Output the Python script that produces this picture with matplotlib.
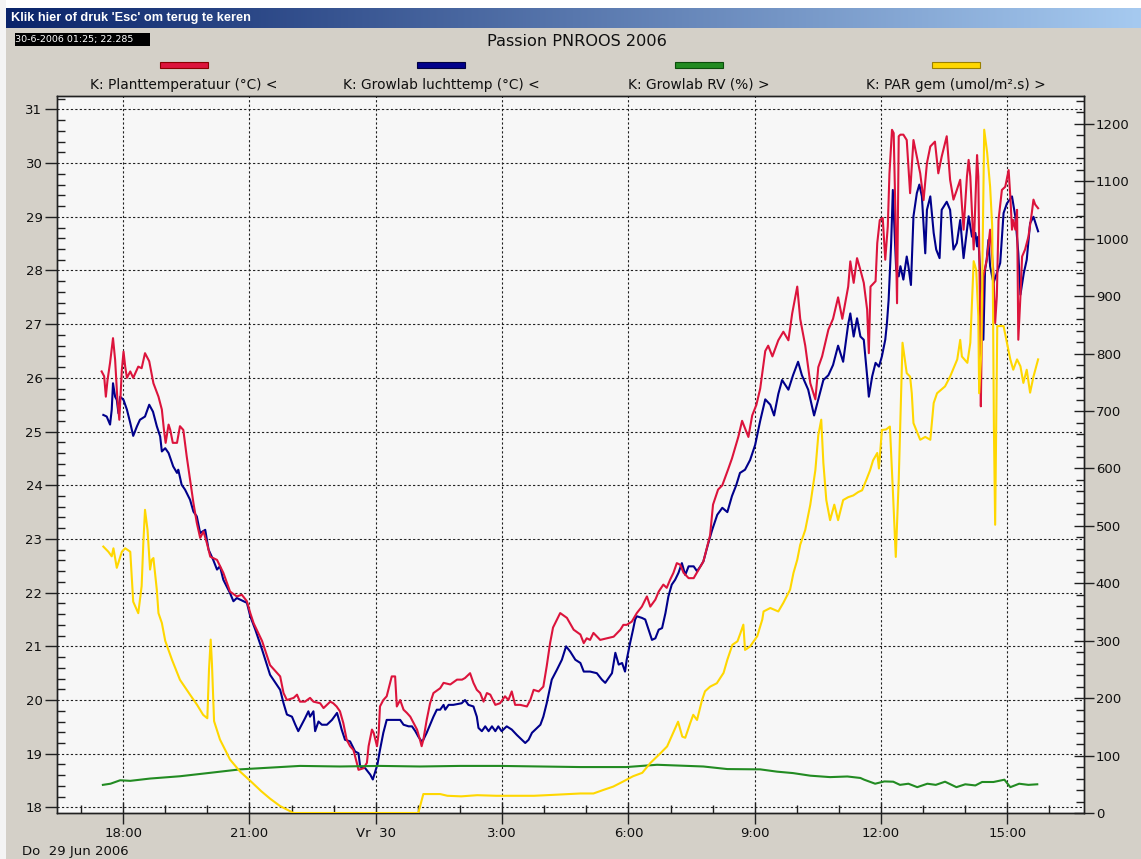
import numpy as np
import matplotlib
matplotlib.use('Agg')
import matplotlib.pyplot as plt
from matplotlib.ticker import MultipleLocator
from matplotlib.patches import Rectangle

# ---------------- data (hours since Thu 29 Jun 2006 00:00) ----------------
t_plant = [17.49, 17.55, 17.59, 17.63, 17.69, 17.76, 17.81, 17.86, 17.91, 17.97, 18.01, 18.05, 18.09, 18.17,
           18.24, 18.36, 18.44, 18.52, 18.62, 18.72, 18.84, 18.92, 18.97, 19.01, 19.08, 19.12, 19.18, 19.28,
           19.35, 19.43, 19.51, 19.59, 19.67, 19.75, 19.83, 19.91, 19.99, 20.07, 20.23, 20.38, 20.54, 20.70,
           20.82, 20.94, 21.02, 21.10, 21.30, 21.49, 21.73, 21.81, 21.89, 22.05, 22.13, 22.20, 22.32, 22.44,
           22.52, 22.68, 22.76, 22.92, 22.99, 23.07, 23.15, 23.23, 23.31, 23.39, 23.47, 23.55, 23.59, 23.71,
           23.79, 23.83, 23.91, 23.95, 24.03, 24.07, 24.10, 24.18, 24.26, 24.34, 24.38, 24.46, 24.50, 24.58,
           24.66, 24.74, 24.82, 24.90, 24.98, 25.05, 25.09, 25.13, 25.21, 25.29, 25.37, 25.53, 25.61, 25.77,
           25.93, 26.05, 26.12, 26.24, 26.32, 26.40, 26.48, 26.56, 26.64, 26.72, 26.84, 26.95, 27.07, 27.15,
           27.23, 27.31, 27.43, 27.59, 27.67, 27.75, 27.87, 27.98, 28.06, 28.14, 28.21, 28.38, 28.54, 28.70,
           28.86, 28.94, 29.01, 29.09, 29.17, 29.33, 29.49, 29.65, 29.81, 29.88, 29.96, 30.08, 30.20, 30.32,
           30.44, 30.52, 30.64, 30.72, 30.83, 30.91, 30.99, 31.07, 31.15, 31.23, 31.31, 31.43, 31.55, 31.67,
           31.78, 31.82, 31.94, 32.01, 32.13, 32.23, 32.37, 32.46, 32.61, 32.70, 32.85, 32.94, 33.04, 33.13,
           33.25, 33.32, 33.42, 33.56, 33.68, 33.80, 33.89, 34.01, 34.08, 34.20, 34.32, 34.44, 34.51, 34.60,
           34.75, 34.86, 34.98, 35.08, 35.22, 35.27, 35.35, 35.43, 35.51, 35.59, 35.67, 35.71, 35.75, 35.87,
           35.91, 35.97, 36.04, 36.10, 36.16, 36.20, 36.26, 36.30, 36.34, 36.38, 36.42, 36.46, 36.53, 36.61,
           36.69, 36.77, 36.85, 36.93, 37.01, 37.09, 37.17, 37.28, 37.36, 37.44, 37.56, 37.64, 37.72, 37.80,
           37.88, 37.96, 38.04, 38.08, 38.12, 38.20, 38.28, 38.31, 38.35, 38.37, 38.39, 38.43, 38.51, 38.59,
           38.67, 38.71, 38.75, 38.79, 38.87, 38.95, 39.03, 39.07, 39.11, 39.14, 39.19, 39.23, 39.26, 39.31,
           39.35, 39.42, 39.50, 39.58, 39.62, 39.66, 39.73]
plant_temp = [26.12, 26.03, 25.65, 25.96, 26.28, 26.74, 26.34, 25.65, 25.22, 26.15, 26.49, 26.21, 26.00, 26.12,
              26.00, 26.21, 26.18, 26.46, 26.31, 25.90, 25.65, 25.41, 25.03, 24.79, 25.13, 25.03, 24.79, 24.79,
              25.10, 25.03, 24.54, 24.10, 23.67, 23.30, 23.02, 23.14, 22.92, 22.67, 22.61, 22.37, 22.02, 21.93,
              21.96, 21.84, 21.62, 21.43, 21.10, 20.65, 20.44, 20.13, 20.00, 20.04, 20.10, 19.97, 19.97, 20.04,
              19.97, 19.94, 19.85, 19.97, 19.94, 19.88, 19.79, 19.57, 19.26, 19.14, 19.07, 18.83, 18.70, 18.73,
              18.83, 19.14, 19.45, 19.39, 19.14, 19.39, 19.88, 20.00, 20.07, 20.32, 20.44, 20.44, 19.88, 20.00,
              19.82, 19.76, 19.69, 19.57, 19.45, 19.26, 19.14, 19.26, 19.63, 19.94, 20.13, 20.22, 20.32, 20.29,
              20.38, 20.38, 20.41, 20.50, 20.32, 20.19, 20.13, 19.97, 20.13, 20.10, 19.91, 19.94, 20.07, 20.00,
              20.16, 19.91, 19.91, 19.88, 20.00, 20.19, 20.16, 20.25, 20.63, 21.06, 21.35, 21.62, 21.53, 21.31,
              21.22, 21.06, 21.15, 21.12, 21.25, 21.12, 21.15, 21.18, 21.31, 21.40, 21.40, 21.46, 21.62, 21.74,
              21.93, 21.74, 21.87, 22.02, 22.15, 22.09, 22.24, 22.37, 22.55, 22.52, 22.37, 22.27, 22.27, 22.43,
              22.58, 22.70, 23.07, 23.64, 23.92, 24.00, 24.30, 24.50, 24.90, 25.20, 24.90, 25.30, 25.50, 25.80,
              26.50, 26.60, 26.40, 26.70, 26.86, 26.70, 27.20, 27.70, 27.10, 26.60, 25.90, 25.60, 26.20, 26.40,
              26.90, 27.10, 27.50, 27.10, 27.70, 28.17, 27.77, 28.23, 28.01, 27.77, 27.27, 26.46, 27.70, 27.80,
              28.51, 28.94, 28.98, 28.20, 28.82, 29.81, 30.62, 30.56, 29.13, 27.39, 30.50, 30.53, 30.53, 30.43,
              29.44, 30.43, 30.12, 29.81, 29.31, 30.00, 30.31, 30.40, 29.81, 30.12, 30.50, 29.69, 29.32, 29.50,
              29.69, 28.76, 29.75, 30.06, 29.75, 28.39, 30.15, 29.75, 27.27, 25.47, 26.65, 27.89, 28.20, 28.76,
              27.95, 27.02, 27.52, 28.94, 29.50, 29.56, 29.87, 29.38, 28.76, 28.94, 28.76, 29.13, 26.71, 27.52,
              28.26, 28.39, 28.63, 29.07, 29.32, 29.23, 29.16]

t_air = [17.53, 17.61, 17.69, 17.73, 17.76, 17.81, 17.85, 17.89, 17.93, 18.01, 18.09, 18.17, 18.24, 18.33,
         18.40, 18.52, 18.62, 18.71, 18.80, 18.88, 18.92, 19.00, 19.08, 19.19, 19.28, 19.31, 19.39, 19.47,
         19.59, 19.67, 19.75, 19.83, 19.95, 20.03, 20.14, 20.23, 20.30, 20.38, 20.54, 20.62, 20.70, 20.86,
         20.94, 21.02, 21.14, 21.30, 21.49, 21.73, 21.81, 21.89, 22.01, 22.09, 22.16, 22.24, 22.32, 22.40,
         22.44, 22.52, 22.56, 22.64, 22.72, 22.84, 22.96, 23.08, 23.15, 23.19, 23.27, 23.39, 23.51, 23.59,
         23.63, 23.75, 23.87, 23.93, 23.99, 24.04, 24.10, 24.18, 24.26, 24.42, 24.58, 24.66, 24.78, 24.86,
         24.94, 25.01, 25.09, 25.13, 25.21, 25.29, 25.37, 25.45, 25.53, 25.61, 25.65, 25.73, 25.84, 26.04,
         26.12, 26.20, 26.32, 26.40, 26.44, 26.52, 26.60, 26.68, 26.76, 26.84, 26.91, 26.99, 27.11, 27.23,
         27.35, 27.47, 27.55, 27.63, 27.71, 27.79, 27.91, 27.98, 28.06, 28.18, 28.30, 28.42, 28.52, 28.62,
         28.74, 28.86, 28.94, 29.09, 29.25, 29.37, 29.45, 29.53, 29.61, 29.69, 29.77, 29.85, 29.92, 29.96,
         30.04, 30.11, 30.16, 30.20, 30.32, 30.40, 30.48, 30.56, 30.64, 30.72, 30.80, 30.88, 30.95, 31.03,
         31.11, 31.19, 31.27, 31.35, 31.43, 31.55, 31.63, 31.71, 31.78, 31.89, 31.99, 32.11, 32.23, 32.35,
         32.46, 32.56, 32.65, 32.77, 32.89, 33.01, 33.13, 33.25, 33.37, 33.46, 33.56, 33.65, 33.80, 33.91,
         34.03, 34.12, 34.27, 34.41, 34.51, 34.63, 34.75, 34.86, 34.98, 35.10, 35.22, 35.27, 35.35, 35.43,
         35.51, 35.59, 35.67, 35.71, 35.79, 35.87, 35.95, 36.02, 36.10, 36.14, 36.18, 36.24, 36.28, 36.32,
         36.36, 36.42, 36.46, 36.53, 36.61, 36.65, 36.71, 36.77, 36.85, 36.91, 36.97, 37.05, 37.09, 37.17,
         37.25, 37.31, 37.39, 37.44, 37.56, 37.64, 37.72, 37.80, 37.88, 37.96, 38.08, 38.16, 38.24, 38.28,
         38.31, 38.39, 38.43, 38.47, 38.51, 38.55, 38.59, 38.67, 38.75, 38.83, 38.91, 38.99, 39.11, 39.19,
         39.26, 39.31, 39.39, 39.46, 39.54, 39.62, 39.73]
air_temp = [25.31, 25.28, 25.13, 25.41, 25.90, 25.65, 25.59, 25.34, 25.65, 25.59, 25.41, 25.16, 24.92, 25.10,
            25.22, 25.28, 25.50, 25.37, 25.10, 24.91, 24.63, 24.69, 24.60, 24.35, 24.23, 24.29, 24.01, 23.92,
            23.73, 23.51, 23.42, 23.11, 23.17, 22.80, 22.61, 22.43, 22.49, 22.24, 21.99, 21.84, 21.90, 21.84,
            21.81, 21.56, 21.31, 20.94, 20.47, 20.19, 19.94, 19.73, 19.69, 19.54, 19.42, 19.54, 19.66, 19.79,
            19.69, 19.79, 19.42, 19.60, 19.54, 19.54, 19.63, 19.76, 19.57, 19.45, 19.26, 19.23, 19.04, 19.01,
            18.76, 18.73, 18.61, 18.52, 18.67, 18.80, 19.07, 19.39, 19.63, 19.63, 19.63, 19.54, 19.51, 19.51,
            19.42, 19.32, 19.23, 19.26, 19.39, 19.54, 19.69, 19.82, 19.82, 19.91, 19.82, 19.91, 19.91, 19.94,
            20.00, 19.91, 19.88, 19.69, 19.48, 19.42, 19.51, 19.42, 19.51, 19.42, 19.51, 19.42, 19.51, 19.45,
            19.35, 19.26, 19.20, 19.26, 19.39, 19.45, 19.54, 19.69, 19.94, 20.38, 20.56, 20.75, 21.00, 20.90,
            20.75, 20.69, 20.53, 20.53, 20.50, 20.38, 20.32, 20.41, 20.50, 20.88, 20.66, 20.69, 20.53, 20.75,
            21.06, 21.31, 21.50, 21.56, 21.53, 21.50, 21.31, 21.12, 21.15, 21.31, 21.34, 21.62, 21.93, 22.15,
            22.24, 22.37, 22.55, 22.33, 22.49, 22.49, 22.40, 22.49, 22.58, 22.90, 23.17, 23.45, 23.58, 23.50,
            23.80, 24.00, 24.23, 24.29, 24.47, 24.75, 25.20, 25.60, 25.50, 25.30, 25.70, 25.96, 25.78, 26.05,
            26.30, 26.05, 25.78, 25.30, 25.60, 25.96, 26.05, 26.24, 26.60, 26.30, 27.00, 27.20, 26.77, 27.11,
            26.77, 26.71, 26.03, 25.65, 26.03, 26.28, 26.21, 26.40, 26.71, 27.02, 27.45, 28.51, 29.50, 28.76,
            28.01, 27.89, 28.08, 27.83, 28.26, 28.08, 27.73, 29.01, 29.44, 29.60, 29.38, 28.32, 29.13, 29.38,
            28.70, 28.39, 28.23, 29.13, 29.28, 29.13, 28.39, 28.51, 28.94, 28.23, 29.01, 28.63, 28.70, 28.45,
            28.63, 27.39, 26.71, 28.01, 28.20, 28.57, 28.08, 27.77, 27.95, 28.14, 29.07, 29.25, 29.38, 29.00,
            28.32, 27.55, 27.95, 28.20, 28.88, 29.00, 28.73]

t_rv = [17.52, 17.70, 17.93, 18.17, 18.64, 19.35, 20.07, 20.78, 21.49, 22.20, 23.15, 24.10, 25.05, 26.00,
        26.95, 27.91, 28.86, 29.95, 30.68, 31.78, 32.35, 33.13, 33.53, 33.91, 34.32, 34.79, 35.20, 35.51,
        35.60, 35.86, 36.08, 36.29, 36.45, 36.65, 36.86, 37.10, 37.30, 37.52, 37.79, 38.00, 38.24, 38.40,
        38.67, 38.93, 39.07, 39.28, 39.50, 39.71]
rv = [49, 51, 57, 56, 60, 64, 70, 76, 79, 82, 81, 82, 81, 82,
      82, 81, 80, 80, 84, 81, 76.5, 76, 72, 69.5, 65, 62.5, 63.6, 61,
      58, 51, 55, 54.5, 49, 51, 45, 51, 49, 54.5, 45, 50, 48, 54,
      54, 58, 45, 51, 49, 50]

t_par = [17.53, 17.65, 17.73, 17.77, 17.85, 17.97, 18.05, 18.17, 18.24, 18.36, 18.44, 18.48, 18.52, 18.58,
         18.64, 18.68, 18.72, 18.80, 18.84, 18.92, 19.00, 19.16, 19.35, 19.59, 19.76, 19.90, 20.00, 20.04,
         20.08, 20.11, 20.16, 20.30, 20.54, 20.78, 21.02, 21.28, 21.49, 21.73, 21.97, 22.04, 25.01, 25.13,
         25.53, 25.70, 26.03, 26.41, 26.86, 27.76, 28.05, 28.86, 29.17, 29.40, 29.64, 29.88, 30.11, 30.33,
         30.52, 30.76, 30.92, 31.06, 31.18, 31.28, 31.35, 31.47, 31.54, 31.63, 31.75, 31.82, 31.94, 32.10,
         32.26, 32.35, 32.47, 32.59, 32.66, 32.73, 32.77, 32.89, 33.06, 33.18, 33.21, 33.37, 33.56, 33.68,
         33.84, 33.92, 34.01, 34.08, 34.20, 34.32, 34.44, 34.51, 34.58, 34.63, 34.70, 34.79, 34.89, 34.98,
         35.10, 35.22, 35.34, 35.46, 35.55, 35.65, 35.74, 35.81, 35.91, 35.95, 36.02, 36.12, 36.21, 36.28,
         36.35, 36.42, 36.51, 36.61, 36.69, 36.73, 36.77, 36.93, 37.05, 37.17, 37.25, 37.33, 37.52, 37.64,
         37.81, 37.88, 37.92, 38.05, 38.12, 38.20, 38.26, 38.31, 38.33, 38.38, 38.45, 38.52, 38.59, 38.64,
         38.66, 38.68, 38.71, 38.76, 38.91, 38.99, 39.07, 39.14, 39.23, 39.31, 39.38, 39.46, 39.54, 39.62,
         39.73]
par = [464, 455, 447, 461, 427, 455, 461, 455, 368, 348, 395, 470, 528, 493,
       424, 441, 444, 389, 348, 331, 300, 267, 232, 206, 188, 171, 165, 250,
       302, 260, 160, 128, 93, 72, 56, 38, 25, 12, 3, 0, 0, 33,
       33, 30, 29, 31, 30, 30, 31, 34, 34, 40, 46, 55, 64, 70,
       87, 104, 116, 139, 159, 133, 131, 157, 171, 162, 197, 212, 220, 226,
       244, 267, 293, 299, 313, 328, 284, 290, 308, 337, 351, 357, 351, 366,
       389, 418, 441, 467, 493, 537, 597, 658, 685, 610, 545, 510, 537, 510,
       545, 550, 553, 559, 562, 580, 597, 614, 627, 600, 667, 668, 673, 563,
       446, 580, 819, 766, 760, 731, 679, 650, 655, 650, 714, 731, 743, 760,
       790, 824, 795, 784, 819, 961, 946, 865, 731, 800, 1190, 1150, 1091, 1022,
       877, 673, 502, 848, 848, 819, 790, 772, 790, 778, 749, 772, 732, 760,
       790]

xtick_pos = [18, 21, 24, 27, 30, 33, 36, 39]
xtick_labels = ['18:00', '21:00', 'Vr  30', '3:00', '6:00', '9:00', '12:00', '15:00']
left_ticks = list(range(18, 32))
right_ticks = list(range(0, 1300, 100))

legend_labels = ['K: Planttemperatuur (\u00b0C) <', 'K: Growlab luchttemp (\u00b0C) <',
                 'K: Growlab RV (%) >', 'K: PAR gem (umol/m\u00b2.s) >']
colors = ['#dc143c', '#00008b', '#228b22', '#ffd700']
edge_colors = ['#8b0000', '#000040', '#0b4d0b', '#9a8000']

# ---------------- figure ----------------
W, H = 1141, 859
fig = plt.figure(figsize=(W / 100, H / 100), dpi=100)
fig.patch.set_facecolor('#d4d0c8')
FONT = 'DejaVu Sans'


def fx(px):
    return px / W


def fy(py):
    return 1 - py / H


# white frame strips
fig.add_artist(Rectangle((0, fy(8)), 1, 1 - fy(8), transform=fig.transFigure,
                         facecolor='#ffffff', edgecolor='none', zorder=0))
fig.add_artist(Rectangle((0, 0), fx(6), 1, transform=fig.transFigure,
                         facecolor='#f4f4f4', edgecolor='none', zorder=0))

# title bar with gradient
tb = fig.add_axes([fx(6), fy(28), 1 - fx(6), fy(8) - fy(28)])
grad = np.linspace(0, 1, 512)
c0 = np.array([10, 36, 106]) / 255
c1 = np.array([166, 202, 240]) / 255
img = (c0[None, :] * (1 - grad[:, None]) + c1[None, :] * grad[:, None])[None, :, :]
tb.imshow(img, aspect='auto', extent=[0, 1, 0, 1])
tb.set_axis_off()
tb.text(0.004, 0.5, "Klik hier of druk 'Esc' om terug te keren", color='white',
        fontweight='bold', fontsize=9.2, family='Liberation Sans', va='center', ha='left',
        transform=tb.transAxes)

# black info box
fig.add_artist(Rectangle((fx(15), fy(46)), fx(150) - fx(15), fy(33) - fy(46),
                         transform=fig.transFigure, facecolor='black', edgecolor='none'))
fig.text(fx(15), fy(39.5), '30-6-2006 01:25; 22.285', color='white', fontsize=6.8,
         family=FONT, va='center', ha='left')

# title
fig.text(fx(577), fy(42), 'Passion PNROOS 2006', fontsize=11.6, family=FONT,
         ha='center', va='center', color='#101010')

# legend
bar_centers = [184, 441, 699, 956]
for cx, lab, col, ec in zip(bar_centers, legend_labels, colors, edge_colors):
    fig.add_artist(Rectangle((fx(cx - 24), fy(68)), fx(48), fy(62) - fy(68),
                             transform=fig.transFigure, facecolor=col, edgecolor=ec, linewidth=0.8))
    fig.text(fx(cx), fy(84.5), lab, fontsize=9.9, family=FONT, ha='center', va='center',
             color='#101010')

# main axes
ax = fig.add_axes([fx(57), fy(813), fx(1084) - fx(57), fy(96) - fy(813)])
ax.set_facecolor('#f7f7f7')
ax2 = ax.twinx()

ax.plot(t_air, air_temp, color=colors[1], linewidth=1.5, zorder=3)
ax.plot(t_plant, plant_temp, color=colors[0], linewidth=1.5, zorder=4)
ax2.plot(t_rv, rv, color=colors[2], linewidth=1.5, zorder=3)
ax2.plot(t_par, par, color=colors[3], linewidth=1.5, zorder=4)

ax.set_xlim(16.43, 40.82)
ax.set_ylim(17.896, 31.25)
ax2.set_ylim(0, 1248.7)

ax.set_xticks(xtick_pos)
ax.set_xticklabels(xtick_labels)
ax.xaxis.set_minor_locator(MultipleLocator(1))
ax.set_yticks(left_ticks)
ax.yaxis.set_minor_locator(MultipleLocator(0.2))
ax2.set_yticks(right_ticks)
ax2.yaxis.set_minor_locator(MultipleLocator(20))

ax.grid(True, which='major', color='#202020', linestyle=(0, (2, 2)), linewidth=0.8)
ax.set_axisbelow(True)

for a in (ax, ax2):
    for s in a.spines.values():
        s.set_color('#202020')
        s.set_linewidth(1.0)

ax.tick_params(axis='x', which='major', direction='inout', length=16, width=1,
               labelsize=9.5, pad=2, colors='#202020', labelcolor='#101010')
ax.tick_params(axis='x', which='minor', direction='in', length=6, width=1, colors='#202020')
ax.tick_params(axis='y', which='major', direction='out', length=9, width=1,
               labelsize=9.5, pad=1.5, colors='#202020', labelcolor='#101010')
ax.tick_params(axis='y', which='minor', direction='in', length=6, width=1, colors='#202020')
ax2.tick_params(axis='y', which='major', direction='inout', length=15, width=1,
                labelsize=9.5, pad=1, colors='#202020', labelcolor='#101010')
ax2.tick_params(axis='y', which='minor', direction='in', length=6, width=1, colors='#202020')
for lbl in ax.get_xticklabels() + ax.get_yticklabels() + ax2.get_yticklabels():
    lbl.set_family(FONT)

fig.text(fx(22), fy(851), 'Do  29 Jun 2006', fontsize=9.5, family=FONT, ha='left',
         va='center', color='#101010')

fig.savefig('out.png', dpi=100, facecolor=fig.get_facecolor())
